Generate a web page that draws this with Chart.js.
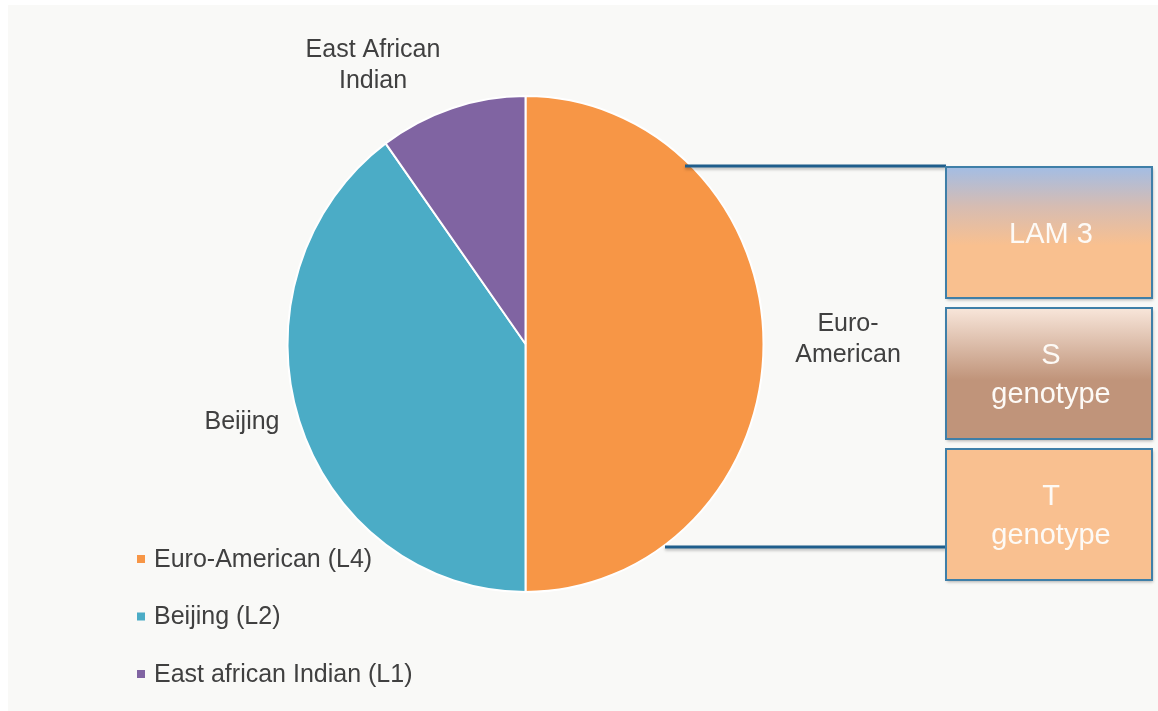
<!DOCTYPE html>
<html lang="en">
<head>
  <meta charset="UTF-8">
  <title>Lineages</title>
  <script src="https://cdn.jsdelivr.net/npm/chart.js"></script>
  <style>
    html, body { margin: 0; padding: 0; background: #ffffff; }
    #wrap { width: 1158px; height: 711px; position: relative; }
  </style>
</head>
<body>
  <div id="wrap"><canvas id="pie" width="1158" height="711"></canvas></div>

  <script>
    // data
    const lineages = ['Euro-American (L4)', 'Beijing (L2)', 'East african Indian (L1)'];
    const shares = [50, 40, 10];
    const sliceColors = ['#F79646', '#4BACC6', '#8064A2'];
    const sliceLabels = [['Euro-', 'American'], ['Beijing'], ['East African', 'Indian']];
    const labelSpots = [[848, 324], [242, 422], [373, 50]];
    const subTypes = [['LAM 3'], ['S', 'genotype'], ['T', 'genotype']];

    const FONT = '"Liberation Sans", Arial, sans-serif';
    const textCol = '#404040';

    // background panel
    const bgPlugin = {
      id: 'bg',
      beforeDraw(chart) {
        const c = chart.ctx;
        c.save();
        c.fillStyle = '#ffffff';
        c.fillRect(0, 0, chart.width, chart.height);
        c.fillStyle = '#F9F9F7';
        c.fillRect(8, 5, chart.width - 8, chart.height - 5);
        c.restore();
      }
    };

    // the picture is a bit taller than wide: stretch the arcs vertically
    const stretch = 248 / 238;
    const ovalPlugin = {
      id: 'oval',
      beforeDatasetsDraw(chart) {
        const arc = chart.getDatasetMeta(0).data[0];
        const c = chart.ctx;
        c.save();
        c.translate(arc.x, arc.y);
        c.scale(1, stretch);
        c.translate(-arc.x, -arc.y);
      },
      afterDatasetsDraw(chart) { chart.ctx.restore(); }
    };

    // slice names, legend, breakdown boxes
    const extrasPlugin = {
      id: 'extras',
      afterDraw(chart) {
        const c = chart.ctx;
        c.save();
        c.font = '25px ' + FONT;
        c.fillStyle = textCol;
        c.textAlign = 'center';
        c.textBaseline = 'middle';
        sliceLabels.forEach((lines, i) => {
          lines.forEach((t, j) => c.fillText(t, labelSpots[i][0], labelSpots[i][1] + j * 31));
        });

        // legend
        c.textAlign = 'left';
        lineages.forEach((name, i) => {
          const y = 559 + i * 57.5;
          c.fillStyle = sliceColors[i];
          c.fillRect(137, y - 4, 8, 8);
          c.fillStyle = textCol;
          c.fillText(name, 154, y + 1);
        });

        // connector lines from the Euro-American slice
        c.shadowColor = 'rgba(0,0,0,0.25)';
        c.shadowBlur = 3;
        c.shadowOffsetY = 2;
        c.strokeStyle = '#1F5E8C';
        c.lineWidth = 3;
        c.beginPath();
        c.moveTo(685, 166); c.lineTo(946, 166);
        c.moveTo(665, 547); c.lineTo(946, 547);
        c.stroke();

        // boxes
        const bx = 946, bw = 206, bh = 131;
        const tops = [167, 308, 449];
        const fills = [
          [[0, '#A3BDE4'], [0.3, '#D6BCB2'], [0.6, '#F9C08F'], [1, '#F9C08F']],
          [[0, '#F8E6DA'], [0.55, '#C0947A'], [1, '#C0947A']],
          [[0, '#F9C090'], [1, '#F9C090']]
        ];
        tops.forEach((y, i) => {
          const g = c.createLinearGradient(0, y, 0, y + bh);
          fills[i].forEach(s => g.addColorStop(s[0], s[1]));
          c.shadowColor = 'rgba(0,0,0,0.3)';
          c.shadowBlur = 3;
          c.shadowOffsetX = 1;
          c.shadowOffsetY = 2;
          c.fillStyle = g;
          c.fillRect(bx, y, bw, bh);
          c.shadowColor = 'transparent';
          c.strokeStyle = '#3F7FA8';
          c.lineWidth = 2;
          c.strokeRect(bx, y, bw, bh);
          c.fillStyle = '#fdfaf6';
          c.font = '29px ' + FONT;
          c.textAlign = 'center';
          const lines = subTypes[i];
          const cy = y + bh / 2 + 2;
          lines.forEach((t, j) => {
            c.fillText(t, bx + bw / 2 + 2, cy + (j - (lines.length - 1) / 2) * 39);
          });
        });
        c.restore();
      }
    };

    new Chart(document.getElementById('pie'), {
      type: 'pie',
      data: {
        labels: lineages,
        datasets: [{
          data: shares,
          backgroundColor: sliceColors,
          borderColor: '#ffffff',
          borderWidth: 2,
          radius: 238
        }]
      },
      options: {
        responsive: false,
        animation: false,
        layout: { padding: { left: 200, right: 307, top: 60, bottom: 83 } },
        plugins: { legend: { display: false }, tooltip: { enabled: false } }
      },
      plugins: [bgPlugin, ovalPlugin, extrasPlugin]
    });
  </script>
</body>
</html>
